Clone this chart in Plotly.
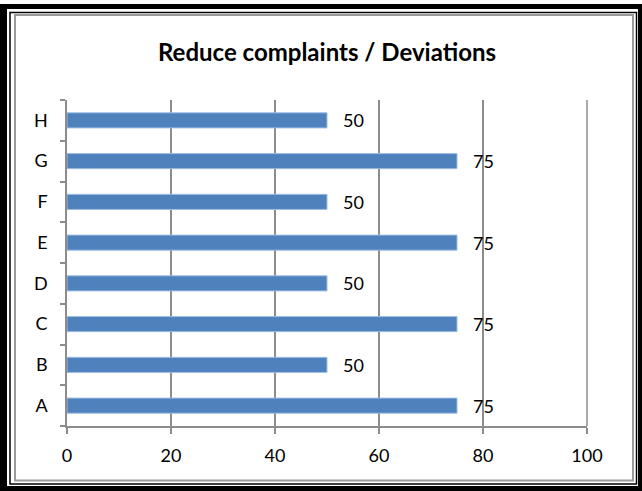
import plotly.graph_objects as go

# Chart data
categories = ["A", "B", "C", "D", "E", "F", "G", "H"]
values = [75, 50, 75, 50, 75, 50, 75, 50]
x_ticks = [0, 20, 40, 60, 80, 100]

W, H = 642, 491
L, R, T, B = 67, 587, 100, 426  # plot area in pixels

def px(x):
    return (x - L) / (R - L)

def py(y):
    return (B - y) / (B - T)

FONT = "Lato, 'Open Sans', sans-serif"
GRID = "#8c8c8c"

fig = go.Figure(
    go.Bar(
        x=values,
        y=categories,
        orientation="h",
        width=0.37,
        marker=dict(color="#4F81BD", line=dict(color="#9DBDE3", width=1)),
        hoverinfo="x+y",
    )
)

# value labels next to each bar
for c, v in zip(categories, values):
    fig.add_annotation(
        x=v, y=c, xref="x", yref="y", text=str(v), showarrow=False,
        xanchor="left", xshift=14, font=dict(family=FONT, size=18, color="#000"),
    )

# frame: thick outer black, thin inner black, gray chart border
shapes = []
for x0, y0, x1, y1 in [(0, 4, 7, 491), (638, 4, 642, 491), (0, 4, 642, 9), (0, 486, 642, 491)]:
    shapes.append(dict(type="rect", xref="paper", yref="paper",
                       x0=px(x0), x1=px(x1), y0=py(y0), y1=py(y1),
                       fillcolor="#000", line=dict(width=0), layer="above"))
shapes.append(dict(type="rect", xref="paper", yref="paper",
                   x0=px(10), x1=px(636.5), y0=py(12.5), y1=py(484),
                   line=dict(color="#000", width=1.5), layer="above"))
shapes.append(dict(type="rect", xref="paper", yref="paper",
                   x0=px(15), x1=px(633), y0=py(15), y1=py(480.5),
                   line=dict(color="#9a9a9a", width=2), layer="above"))
# gridline at the right end of the value axis (not clipped by the plot area)
shapes.append(dict(type="line", xref="paper", yref="paper",
                   x0=1, x1=1, y0=0, y1=1,
                   line=dict(color=GRID, width=1.5), layer="below"))

fig.update_layout(
    width=W, height=H,
    margin=dict(l=L, r=W - R, t=T, b=H - B),
    paper_bgcolor="#fff", plot_bgcolor="#fff",
    showlegend=False,
    font=dict(family=FONT, size=18, color="#000"),
    title=dict(text="<b>Reduce complaints / Deviations</b>", x=0.5, xanchor="center",
               xref="paper", y=1 - 53 / H, yref="container", yanchor="middle",
               font=dict(family=FONT, size=24, color="#000")),
    shapes=shapes,
)
fig.update_xaxes(
    range=[0, 100], tickvals=x_ticks, ticktext=[str(t) for t in x_ticks],
    showgrid=True, gridcolor=GRID, gridwidth=1.5, zeroline=False,
    showline=True, linecolor=GRID, linewidth=1.5,
    ticks="outside", ticklen=6, tickcolor=GRID, tickwidth=1.5,
    ticklabelstandoff=7,
    tickfont=dict(family=FONT, size=18, color="#000"),
)
fig.update_yaxes(
    type="category", categoryorder="array", categoryarray=categories,
    showgrid=False, zeroline=False, tickson="boundaries",
    showline=True, linecolor=GRID, linewidth=1.5,
    ticks="outside", ticklen=5, tickcolor=GRID, tickwidth=1.5,
    ticklabelstandoff=14,
    tickfont=dict(family=FONT, size=18, color="#000"),
)

fig.write_html("out.html")
